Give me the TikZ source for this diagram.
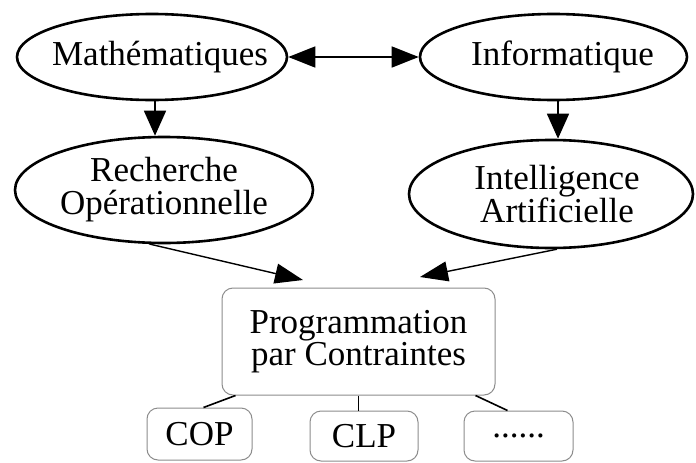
\documentclass[tikz,border=0pt]{standalone}
\usepackage{fontspec}
\setmainfont{Liberation Serif}
\usetikzlibrary{shapes.geometric,arrows.meta}

\tikzset{
  field/.style={ellipse, draw, line width=2.6pt, inner xsep=-40pt, inner ysep=-12pt,
                align=center, font=\fontsize{35}{33}\selectfont},
  pcbox/.style={rectangle, rounded corners=11pt, draw=black!45, line width=1pt,
                align=center, font=\fontsize{35}{32.5}\selectfont, inner sep=0pt},
  bigarrow/.style={line width=1.6pt, -{Triangle[length=25pt,width=22pt]}},
  bothways/.style={line width=1.6pt, {Triangle[length=27pt,width=21pt]}-{Triangle[length=27pt,width=21pt]}},
  feed/.style={line width=1.4pt, -{Triangle[length=28pt,width=20pt]}},
  branch/.style={line width=1.6pt}
}
% shifts a line of text to the right inside its node
\newcommand{\nudge}[1]{\hspace*{#1}}

\begin{document}
\begin{tikzpicture}[x=1pt,y=-1pt]
  \useasboundingbox (0,0) rectangle (696,463);

  % disciplines
  \node[field, minimum width=270pt, minimum height=86pt] (math) at (152,57)
       {\nudge{16pt}Mathématiques};
  \node[field, minimum width=267pt, minimum height=86pt] (info) at (553.5,57)
       {\nudge{18pt}Informatique};
  \node[field, minimum width=298pt, minimum height=106pt] (ro) at (164,190)
       {Recherche\\Opérationnelle};
  \node[field, minimum width=284pt, minimum height=108pt] (ia) at (551,194)
       {\nudge{12pt}Intelligence\\\nudge{12pt}Artificielle};

  % constraint programming and its branches
  \node[pcbox, minimum width=273pt, minimum height=107pt] (pc) at (358.5,341.5)
       {Programmation\\par Contraintes};
  \node[pcbox, minimum width=105pt, minimum height=52pt] (cop) at (199.5,434) {COP};
  \node[pcbox, minimum width=108pt, minimum height=50pt] (clp) at (364,436) {CLP};
  \node[pcbox, minimum width=109pt, minimum height=50pt] (more) at (518.5,436) {......};

  \coordinate (pcL) at (303,280);
  \coordinate (pcR) at (420,277);

  % links
  \draw[bothways] (math.east) -- (info.west);
  \draw[bigarrow] (math.south -| 155,0) -- (ro.north -| 155,0);
  \draw[bigarrow] (info.south -| 558,0) -- (ia.north -| 558,0);
  \draw[feed] (ro.-105) -- (pcL);
  \draw[feed] (ia.-84) -- (pcR);

  \draw[branch] ([xshift=14pt]pc.south west) -- ([xshift=4pt]cop.north);
  \draw[branch] (pc.south) -- ([xshift=-5.5pt]clp.north);
  \draw[branch] ([xshift=-20pt]pc.south east) -- ([xshift=-11pt]more.north);
\end{tikzpicture}
\end{document}
